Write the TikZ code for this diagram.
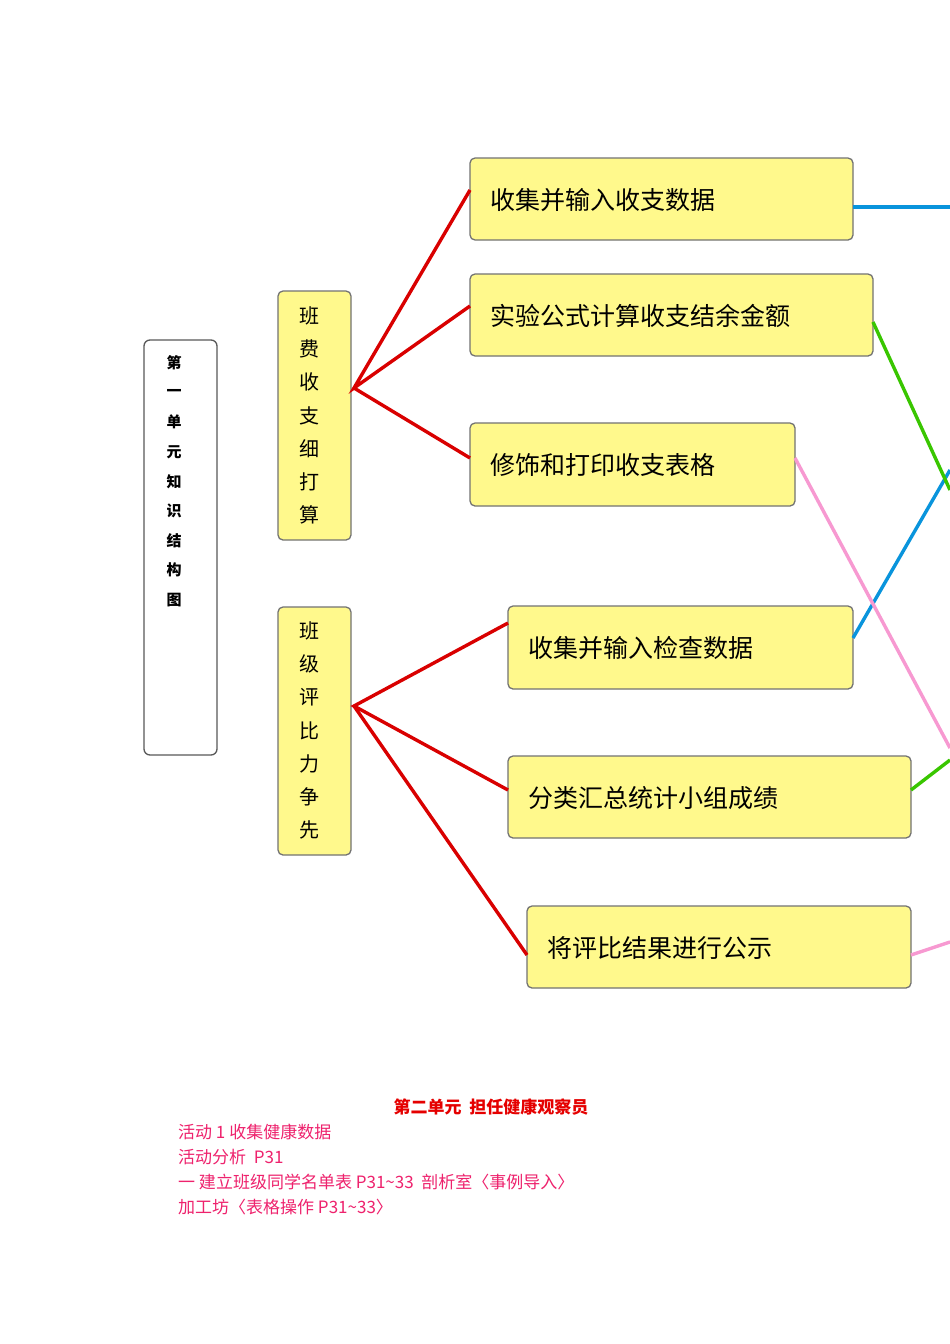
\documentclass[tikz,border=0pt]{standalone}
\usepackage{fontspec}
\newfontfamily\cjk{Noto Sans CJK SC}
\begin{document}
\begin{tikzpicture}[x=1pt,y=-1pt,
  ybox/.style={draw=black!55,line width=1.3pt,fill=yellow!45,rounded corners=5pt,inner sep=0pt},
  wbox/.style={draw=black!65,line width=1.3pt,fill=white,rounded corners=6pt,inner sep=0pt},
  red/.style={draw=red!85!black,line width=3.4pt},
  cy/.style={draw=cyan!80!blue,line width=3.4pt},
  gr/.style={draw=green!55!olive,line width=3.4pt},
  pk/.style={draw=magenta!40,line width=3.4pt},
  vt/.style={inner sep=0pt,font=\cjk\fontsize{20}{20}\selectfont},
  st/.style={inner sep=0pt,font=\cjk\bfseries\fontsize{15}{15}\selectfont},
  rt/.style={anchor=west,inner sep=0pt,font=\cjk\fontsize{25}{28}\selectfont},
  bt/.style={anchor=west,inner sep=0pt,text=magenta!60!red!90,font=\cjk\fontsize{17}{19}\selectfont}]
\useasboundingbox (0,0) rectangle (950,1344);
\fill[white] (0,0) rectangle (950,1344);
% left title box
\draw[wbox] (144,340) rectangle (217,755);
\foreach \c [count=\i] in {第,一,单,元,知,识,结,构,图}
  \node[st] (t\i) at (174,{363+29.6*(\i-1)}) {\c};
% middle boxes
\draw[ybox] (278,291) rectangle (351,540);
\foreach \c [count=\i] in {班,费,收,支,细,打,算}
  \node[vt] (a\i) at (309,{316+33.2*(\i-1)}) {\c};
\draw[ybox] (278,607) rectangle (351,855);
\foreach \c [count=\i] in {班,级,评,比,力,争,先}
  \node[vt] (b\i) at (309,{631+33.2*(\i-1)}) {\c};
\coordinate (h1) at (354,388);
\coordinate (h2) at (354,706);
% right boxes
\draw[ybox] (470,158) rectangle (853,240);
\node[rt] (r1) at (490,200) {收集并输入收支数据};
\draw[ybox] (470,274) rectangle (873,356);
\node[rt] (r2) at (490,316) {实验公式计算收支结余金额};
\draw[ybox] (470,423) rectangle (795,506);
\node[rt] (r3) at (490,465) {修饰和打印收支表格};
\draw[ybox] (508,606) rectangle (853,689);
\node[rt] (r4) at (528,648) {收集并输入检查数据};
\draw[ybox] (508,756) rectangle (911,838);
\node[rt] (r5) at (528,798) {分类汇总统计小组成绩};
\draw[ybox] (527,906) rectangle (911,988);
\node[rt] (r6) at (547,948) {将评比结果进行公示};
% red connectors
\draw[red] (470,190) -- (h1) -- (470,306);
\draw[red] (h1) -- (470,458);
\draw[red] (508,623) -- (h2) -- (508,790);
\draw[red] (h2) -- (527,955);
% coloured connectors
\draw[cy] (853,207) -- (950,207);
\draw[cy] (853,638) -- (950,470);
\draw[gr] (873,322) -- (950,490);
\draw[gr] (911,790) -- (950,760);
\draw[pk] (795,458) -- (950,748);
\draw[pk] (911,955) -- (950,942);
% bottom text
\node[inner sep=0pt,text=red!90!black,font=\cjk\bfseries\fontsize{17}{19}\selectfont] (h) at (491,1107) {第二单元\ \ 担任健康观察员};
\node[bt] (l1) at (178,1132) {活动 1\ 收集健康数据};
\node[bt] (l2) at (178,1157) {活动分析\ \ P31};
\node[bt] (l3) at (178,1182) {一 建立班级同学名单表 P31\textasciitilde 33\ \ 剖析室〈事例导入〉};
\node[bt] (l4) at (178,1207) {加工坊〈表格操作 P31\textasciitilde 33〉};
\end{tikzpicture}
\end{document}
